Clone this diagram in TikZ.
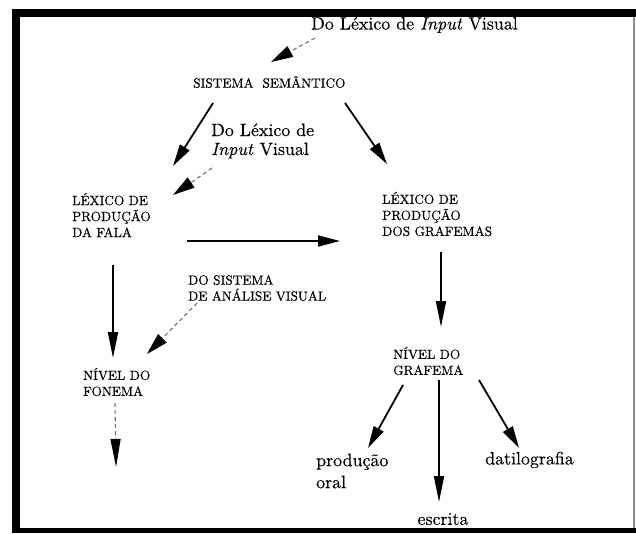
\documentclass[tikz,border=0pt]{standalone}
\usepackage{fontspec}
\setmainfont{lmroman10-regular.otf}[ItalicFont=lmroman10-italic.otf, FakeBold=0.25]
\usetikzlibrary{arrows.meta}
\tikzset{
  capslabel/.style={font=\fontsize{13.3}{16}\selectfont, inner sep=0pt, anchor=west, align=left},
  lowlabel/.style={font=\fontsize{17.9}{20}\selectfont, inner sep=0pt, anchor=west, align=left},
  solidarr/.style={line width=1.8pt, -{Triangle[length=22pt,width=11pt]}},
  vertarr/.style={line width=1.8pt, -{Triangle[length=26pt,width=10pt]}},
  dasharr/.style={line width=1.1pt, draw=black!55, dash pattern=on 4pt off 3pt,
    -{Triangle[length=22pt,width=12pt,color=black]}},
  dashvert/.style={line width=1.1pt, draw=black!55, dash pattern=on 4pt off 3pt,
    -{Triangle[length=28pt,width=10pt,color=black]}},
}
\begin{document}
\begin{tikzpicture}[x=1pt,y=-1pt]
\useasboundingbox (0,0) rectangle (636,533);
\fill[white] (0,0) rectangle (636,533);
% frame
\fill[black] (12,9) rectangle (20,533);
\fill[black] (12,9) rectangle (636,17);
\fill[black] (12,528) rectangle (636,533);
\draw[black!45, line width=1.5pt] (634,17) -- (634,528);

% nodes
\node[lowlabel] (top) at (311,25) {Do Léxico de \textit{Input} Visual};
\node[capslabel] (sem) at (193,82) {SISTEMA\ \ SEMÂNTICO};
\node[lowlabel, font=\fontsize{17.9}{19}\selectfont] (in2) at (211,141) {Do Léxico de\\\textit{Input} Visual};
\node[capslabel] (fala) at (72,215) {LÉXICO DE\\PRODUÇÃO\\DA FALA};
\node[capslabel] (graf) at (382,214) {LÉXICO DE\\PRODUÇÃO\\DOS GRAFEMAS};
\node[capslabel] (vis) at (188,288) {DO SISTEMA\\DE ANÁLISE VISUAL};
\node[capslabel] (fon) at (83,382) {NÍVEL DO\\FONEMA};
\node[capslabel] (ngraf) at (393,361) {NÍVEL DO\\GRAFEMA};
\node[lowlabel, font=\fontsize{17.9}{22}\selectfont] (oral) at (316,471) {produção\\oral};
\node[lowlabel] (dat) at (485,460) {datilografia};
\node[lowlabel, anchor=center] (esc) at (443,519) {escrita};
\coordinate (fonout) at (116,467);

% connectors
\draw[dasharr] ([shift={(4,13)}]top.west) -- ([shift={(78,-20)}]sem.west);
\draw[solidarr] ([shift={(20,21)}]sem.west) -- ([shift={(101,-49)}]fala.west);
\draw[solidarr] ([shift={(152,21)}]sem.west) -- ([shift={(5,-50)}]graf.west);
\draw[dasharr] ([shift={(1,27)}]in2.west) -- ([shift={(101,-20)}]fala.west);
\draw[solidarr] ([shift={(115,26)}]fala.west) -- ([shift={(-42,27)}]graf.west);
\draw[vertarr] ([shift={(41,50)}]fala.west) -- ([shift={(30,-24)}]fon.west);
\draw[dasharr] ([shift={(9,15)}]vis.west) -- ([shift={(64,-28)}]fon.west);
\draw[dashvert] ([shift={(32,21)}]fon.west) -- (fonout);
\draw[vertarr] ([shift={(59,38)}]graf.west) -- ([shift={(48,-34)}]ngraf.west);
\draw[solidarr] ([shift={(10,24)}]ngraf.west) -- ([shift={(52,-23)}]oral.west);
\draw[vertarr] ([shift={(46,19)}]ngraf.west) -- ([shift={(-4,-17)}]esc.center);
\draw[solidarr] ([shift={(86,19)}]ngraf.west) -- ([shift={(34,-12)}]dat.west);
\end{tikzpicture}
\end{document}
